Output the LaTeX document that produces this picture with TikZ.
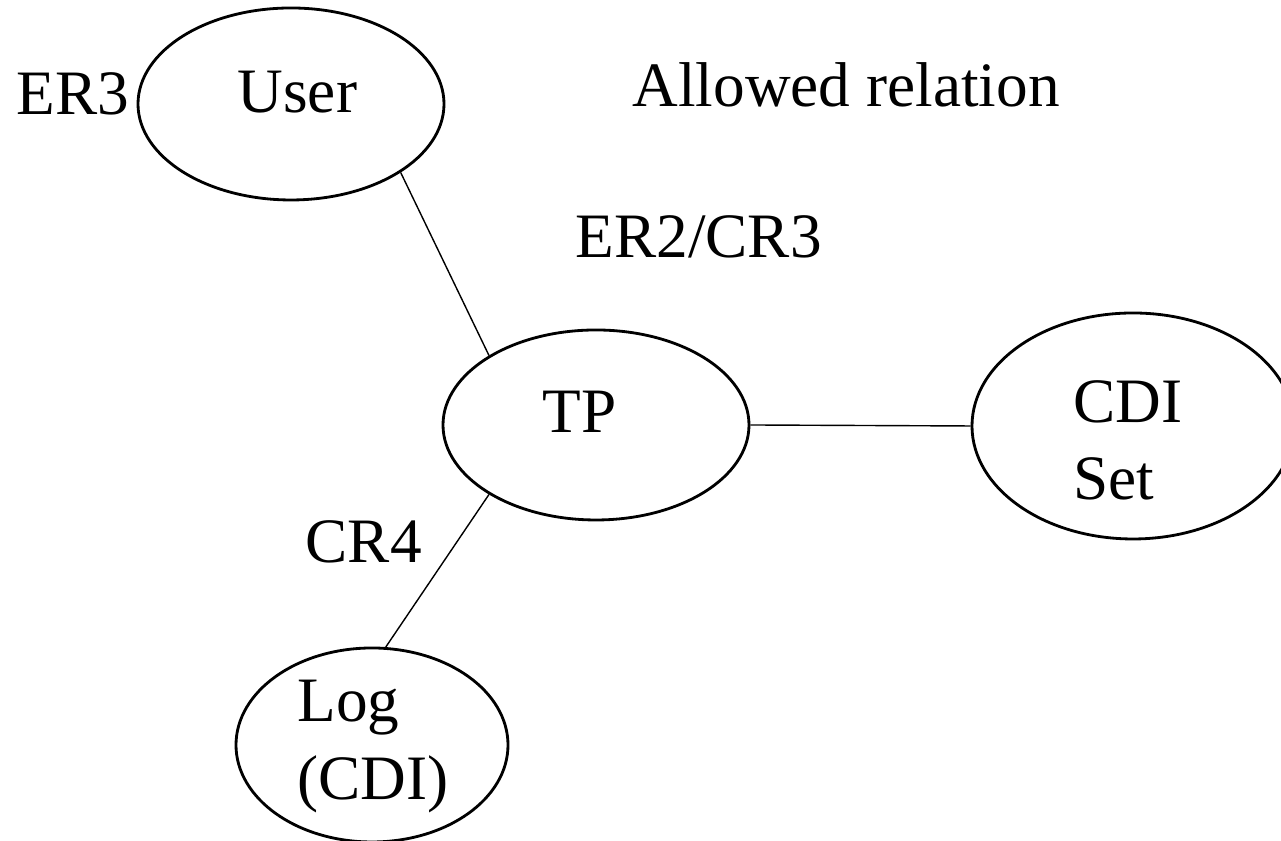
\documentclass[tikz,border=0pt]{standalone}
\usepackage{fontspec}
\setmainfont{Liberation Serif}
\usetikzlibrary{shapes.geometric}

\tikzset{
    entity/.style={draw, ellipse, line width=0.8pt, inner sep=0pt},
    lbl/.style={font=\fontsize{18}{22}\selectfont, inner sep=0pt, anchor=base west},
    rel/.style={line width=0.4pt}
}

\begin{document}
\begin{tikzpicture}
    \useasboundingbox (0, 0) rectangle (12.81, 8.41);

    % Entities
    \node[entity, minimum width=3.06cm, minimum height=1.92cm] (user) at (2.91, 7.37) {};
    \node[entity, minimum width=3.06cm, minimum height=1.90cm] (tp) at (5.96, 4.16) {};
    \node[entity, minimum width=3.22cm, minimum height=2.26cm] (cdi) at (11.33, 4.15) {};
    \node[entity, minimum width=2.72cm, minimum height=1.94cm] (log) at (3.72, 0.96) {};

    % Texts inside the entities
    \node[lbl] (usertext) at (2.37, 7.28) {User};
    \node[lbl] (tptext) at (5.42, 4.08) {TP};
    \node[lbl] (cditext) at (10.73, 4.18) {CDI};
    \node[lbl] (settext) at (10.73, 3.41) {Set};
    \node[lbl] (logtext) at (2.97, 1.19) {Log};
    \node[lbl] (logcditext) at (2.97, 0.41) {(CDI)};

    % Rule labels
    \node[lbl] (er3) at (0.16, 7.26) {ER3};
    \node[lbl] (title) at (6.32, 7.34) {Allowed relation};
    \node[lbl] (er2cr3) at (5.75, 5.83) {ER2/CR3};
    \node[lbl] (cr4) at (3.05, 2.78) {CR4};

    % Relations
    \draw[rel] (user.-32) -- (tp.147);
    \draw[rel] (tp.east) -- (cdi.west);
    \draw[rel] (tp.-147) -- (log.82);

\end{tikzpicture}
\end{document}
